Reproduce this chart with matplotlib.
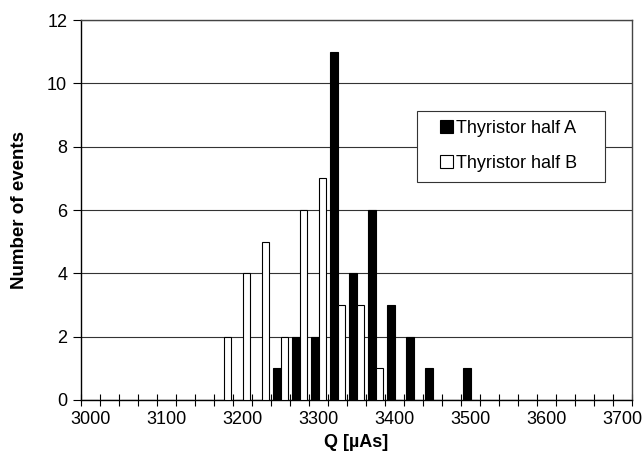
import numpy as np
import matplotlib.pyplot as plt
from matplotlib.patches import Rectangle

plt.rcParams['font.family'] = ['Liberation Sans', 'DejaVu Sans']

# histogram bins of Q in µAs (Excel category axis, 25 µAs per bin)
bins = [3000, 3025, 3050, 3075, 3100, 3125, 3150, 3175, 3200, 3225,
        3250, 3275, 3300, 3325, 3350, 3375, 3400, 3425, 3450, 3475,
        3500, 3525, 3550, 3575, 3600, 3625, 3650, 3675, 3700]
half_a = [0, 0, 0, 0, 0, 0, 0, 0, 0, 0,
          1, 2, 2, 11, 4, 6, 3, 2, 1, 0,
          1, 0, 0, 0, 0, 0, 0, 0, 0]
half_b = [0, 0, 0, 0, 0, 0, 0, 2, 4, 5,
          2, 6, 7, 3, 3, 1, 0, 0, 0, 0,
          0, 0, 0, 0, 0, 0, 0, 0, 0]

fig = plt.figure(figsize=(6.44, 4.62), dpi=100)
ax = fig.add_axes([0.1258, 0.1342, 0.8556, 0.8225])

pos = np.arange(len(bins)) + 0.5
w = 0.38
ax.bar(pos - w / 2, half_a, width=w, color='black', edgecolor='black',
       linewidth=0.8, label='Thyristor half A', zorder=3)
ax.bar(pos + w / 2, half_b, width=w, color='white', edgecolor='black',
       linewidth=0.8, label='Thyristor half B', zorder=3)

ax.set_xlim(0, len(bins))
ax.set_ylim(0, 12)

# ticks on bin boundaries, labels every 4th bin in the middle of the bin
ax.set_xticks(np.arange(len(bins) + 1))
ax.set_xticklabels([])
ax.set_xticks(pos[::4], minor=True)
ax.set_xticklabels([str(b) for b in bins[::4]], minor=True)
ax.tick_params(axis='x', which='major', direction='inout', length=9, width=0.8)
ax.tick_params(axis='x', which='minor', length=0, labelsize=13, pad=8)

ax.set_yticks(range(0, 13, 2))
ax.tick_params(axis='y', direction='out', length=6, width=0.8, labelsize=13, pad=4)

ax.yaxis.grid(True, color='#333333', linewidth=0.8)
ax.set_axisbelow(True)

for s in ['left', 'bottom']:
    ax.spines[s].set_linewidth(1.0)
for s in ['top', 'right']:
    ax.spines[s].set_color('#444444')
    ax.spines[s].set_linewidth(1.0)

ax.set_xlabel('Q [µAs]', fontsize=13, fontweight='bold', labelpad=4)
ax.set_ylabel('Number of events', fontsize=13.5, fontweight='bold', labelpad=14)

# legend box drawn separately so the entries can sit with Excel-like padding
ax.add_patch(Rectangle((0.609, 0.574), 0.342, 0.1865, transform=ax.transAxes,
                       facecolor='white', edgecolor='#333333', linewidth=0.8,
                       zorder=4))
leg = ax.legend(loc='upper left', bbox_to_anchor=(0.651, 0.737),
                fontsize=13, frameon=False,
                handlelength=0.75, handleheight=0.75, handletextpad=0.15,
                labelspacing=1.0, borderpad=0, borderaxespad=0)
leg.set_zorder(5)

fig.savefig('out.png', dpi=100)
